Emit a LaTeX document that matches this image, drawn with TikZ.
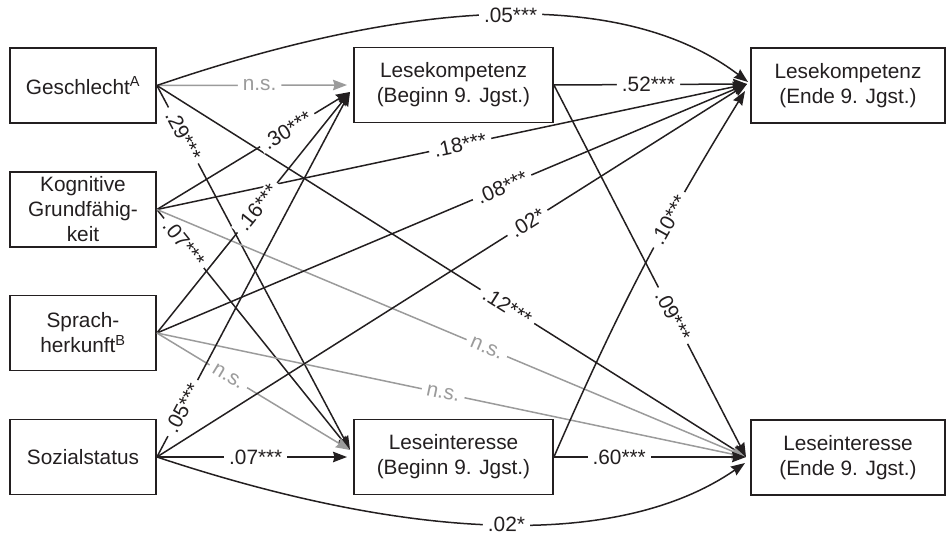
\documentclass[tikz,border=0pt]{standalone}
\usepackage{fontspec}
\setmainfont{Liberation Sans}
\usetikzlibrary{arrows.meta}
\definecolor{ink}{HTML}{231F20}
\definecolor{nsgray}{HTML}{9B9B9B}
\begin{document}
\begin{tikzpicture}[x=1pt,y=-1pt,
  box/.style={draw=ink, line width=1.8pt, minimum height=75pt, align=center,
    text=ink, font=\fontsize{20.8}{25}\selectfont, inner sep=0pt},
  link/.style={draw=ink, line width=1.5pt,
    -{Stealth[length=14pt,width=10.5pt,inset=1.5pt]}},
  nslink/.style={link, draw=nsgray},
  lab/.style={fill=white, text=ink, inner xsep=5pt, inner ysep=1pt,
    font=\fontsize{20.8}{25}\selectfont, sloped},
  nslab/.style={lab, text=nsgray}]
\useasboundingbox (0,0) rectangle (946,535);

% predictors
\node[box, minimum width=146pt] (gesch)  at (83,85.5)  {Geschlecht\textsuperscript{A}};
\node[box, minimum width=146pt] (kogn)   at (83,209.5) {Kognitive\\Grundfähig-\\keit};
\node[box, minimum width=146pt] (sprach) at (83,333)   {Sprach-\\herkunft\textsuperscript{B}};
\node[box, minimum width=146pt] (sozial) at (83,457)   {Sozialstatus};
% measures at the start of grade 9
\node[box, minimum width=199pt] (lkb) at (453.5,85)  {Lesekompetenz\\(Beginn 9. Jgst.)};
\node[box, minimum width=199pt] (lib) at (453.5,457) {Leseinteresse\\(Beginn 9. Jgst.)};
% measures at the end of grade 9
\node[box, minimum width=194pt] (lke) at (848,85.5)  {Lesekompetenz\\(Ende 9. Jgst.)};
\node[box, minimum width=194pt] (lie) at (848,457.5) {Leseinteresse\\(Ende 9. Jgst.)};

% arrow tip targets
\coordinate (lkbInA) at (347,85);
\coordinate (lkbIn)  at (350,92);
\coordinate (libInH) at (347,457);
\coordinate (libIn)  at (350,450);
\coordinate (lkeIn)  at (747,84);
\coordinate (lkeTop) at (748,82);
\coordinate (lkeLow) at (745,91);
\coordinate (lieIn)  at (746,457);
\coordinate (lieLow) at (745,463);

% paths from Geschlecht
\draw[nslink] (gesch.east) -- node[nslab,pos=.54]{n.s.} (lkbInA);
\draw[link] (gesch.east) .. controls (430,-8) and (630,-8) .. node[lab,pos=.5]{.05***} (lkeTop);
\draw[link] (gesch.east) -- node[lab,pos=.137]{.29***} (libIn);
\draw[link] (gesch.east) -- node[lab,pos=.595]{.12***} (lieIn);
% paths from Kognitive Grundfaehigkeit
\draw[link] (kogn.east) -- node[lab,pos=.675]{.30***} (lkbIn);
\draw[link] (kogn.east) -- node[lab,pos=.514]{.18***} (lkeIn);
\draw[link] (kogn.east) -- node[lab,pos=.14]{.07***} (libIn);
\draw[nslink] (kogn.east) -- node[nslab,pos=.56]{n.s.} (lieIn);
% paths from Sprachherkunft
\draw[link] (sprach.east) -- node[lab,pos=.52]{.16***} (lkbIn);
\draw[link] (sprach.east) -- node[lab,pos=.585]{.08***} (lkeIn);
\draw[nslink] (sprach.east) -- node[nslab,pos=.37]{n.s.} (libIn);
\draw[nslink] (sprach.east) -- node[nslab,pos=.486]{n.s.} (lieIn);
% paths from Sozialstatus
\draw[link] (sozial.east) -- node[lab,pos=.134]{.05***} (lkbIn);
\draw[link] (sozial.east) -- node[lab,pos=.628]{.02*} (lkeIn);
\draw[link] (sozial.east) -- node[lab,pos=.52]{.07***} (libInH);
\draw[link] (sozial.east) .. controls (425,546) and (625,546) .. node[lab,pos=.5]{.02*} (lieLow);
% paths from the start to the end of grade 9
\draw[link] (lkb.east) -- node[lab,pos=.49]{.52***} (lkeIn);
\draw[link] (lkb.east) -- node[lab,pos=.62]{.09***} (lieIn);
\draw[link] (lib.east) -- node[lab,pos=.34]{.60***} (lieIn);
\draw[link] (lib.east) to[bend left=4] node[lab,pos=.65]{.10***} (lkeLow);
\end{tikzpicture}
\end{document}
